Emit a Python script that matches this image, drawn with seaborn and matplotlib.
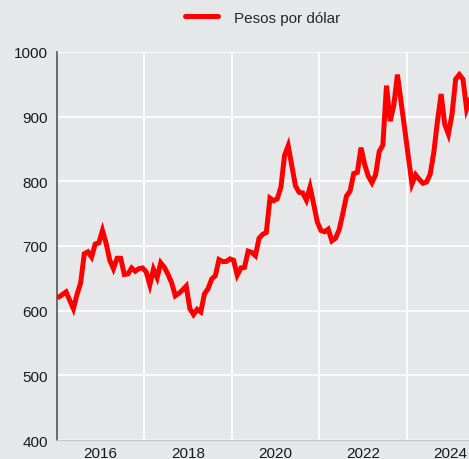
import numpy as np
import pandas as pd
import matplotlib
matplotlib.use("Agg")
import matplotlib.pyplot as plt
import matplotlib.ticker as mticker
import seaborn as sns

# ── Data: monthly pesos per dollar, Jan 2015 – Jun 2024 ──────────────────────
START = "2015-01-01"
pesos_2015 = [621, 625, 629, 616, 603, 625, 643, 688, 691, 683, 703, 705]
pesos_2016 = [724, 704, 678, 665, 681, 681, 656, 657, 666, 661, 665, 666]
pesos_2017 = [660, 640, 664, 651, 674, 667, 656, 643, 623, 627, 632, 638]
pesos_2018 = [603, 594, 602, 598, 626, 634, 649, 654, 679, 676, 676, 680]
pesos_2019 = [678, 655, 666, 667, 692, 690, 685, 712, 718, 721, 774, 770]
pesos_2020 = [773, 791, 840, 855, 824, 793, 783, 782, 771, 791, 765, 737]
pesos_2021 = [724, 722, 726, 708, 712, 725, 750, 777, 785, 812, 814, 852]
pesos_2022 = [826, 808, 798, 810, 846, 856, 948, 893, 917, 965, 923, 881]
pesos_2023 = [838, 796, 810, 803, 797, 799, 811, 845, 893, 935, 888, 873]
pesos_2024 = [904, 958, 965, 958, 912, 928]

SERIES_LABEL = "Pesos por dólar"
Y_TICKS = [400, 500, 600, 700, 800, 900, 1000]
X_LABEL_YEARS = [2016, 2018, 2020, 2022, 2024]
X_GRID_YEARS = [2017, 2019, 2021, 2023]

values = (pesos_2015 + pesos_2016 + pesos_2017 + pesos_2018 + pesos_2019
          + pesos_2020 + pesos_2021 + pesos_2022 + pesos_2023 + pesos_2024)
dates = pd.date_range(START, periods=len(values), freq="MS")
df = pd.DataFrame({
    "t": dates.year + (dates.month - 0.5) / 12,   # mid-month, decimal year
    "valor": values,
})

# ── Style ────────────────────────────────────────────────────────────────────
BG = "#e6e7e9"
sns.set_theme(style="white")
plt.rcParams["font.family"] = ["Liberation Sans", "DejaVu Sans"]

fig = plt.figure(figsize=(4.69, 4.60), dpi=100, facecolor=BG)
ax = fig.add_axes([0.1215, 0.0413, 0.8785, 0.8435])
ax.set_facecolor(BG)

sns.lineplot(data=df, x="t", y="valor", ax=ax, color="#ff0000",
             linewidth=3.6, label=SERIES_LABEL, zorder=3,
             solid_joinstyle="miter")

ax.set_xlim(2015.0, 2024.43)
ax.set_ylim(400, 1000)
ax.set_yticks(Y_TICKS)
ax.set_xticks(X_LABEL_YEARS)
ax.xaxis.set_major_formatter(mticker.FormatStrFormatter("%d"))
ax.set_xticks(X_GRID_YEARS, minor=True)

ax.grid(axis="y", which="major", color="white", linewidth=1.2)
ax.grid(axis="x", which="minor", color="white", linewidth=1.2)
ax.grid(axis="x", which="major", visible=False)

ax.tick_params(axis="both", which="both", length=3.5, width=1,
               color="#333333", labelsize=11, labelcolor="#1a1a1a")
ax.tick_params(axis="y", direction="in", pad=6.5)
ax.tick_params(axis="x", which="both", direction="out", pad=1)

for side in ["top", "right"]:
    ax.spines[side].set_visible(False)
ax.spines["left"].set_color("#555555")
ax.spines["left"].set_linewidth(1.2)
ax.spines["bottom"].set_color("#c8c8c8")
ax.spines["bottom"].set_linewidth(1.0)

ax.set_xlabel("")
ax.set_ylabel("")
ax.legend(loc="lower center", bbox_to_anchor=(0.5, 1.035), frameon=False,
          fontsize=11, handlelength=2.1, handletextpad=1.1)

fig.savefig("out.png", dpi=100, facecolor=BG)
